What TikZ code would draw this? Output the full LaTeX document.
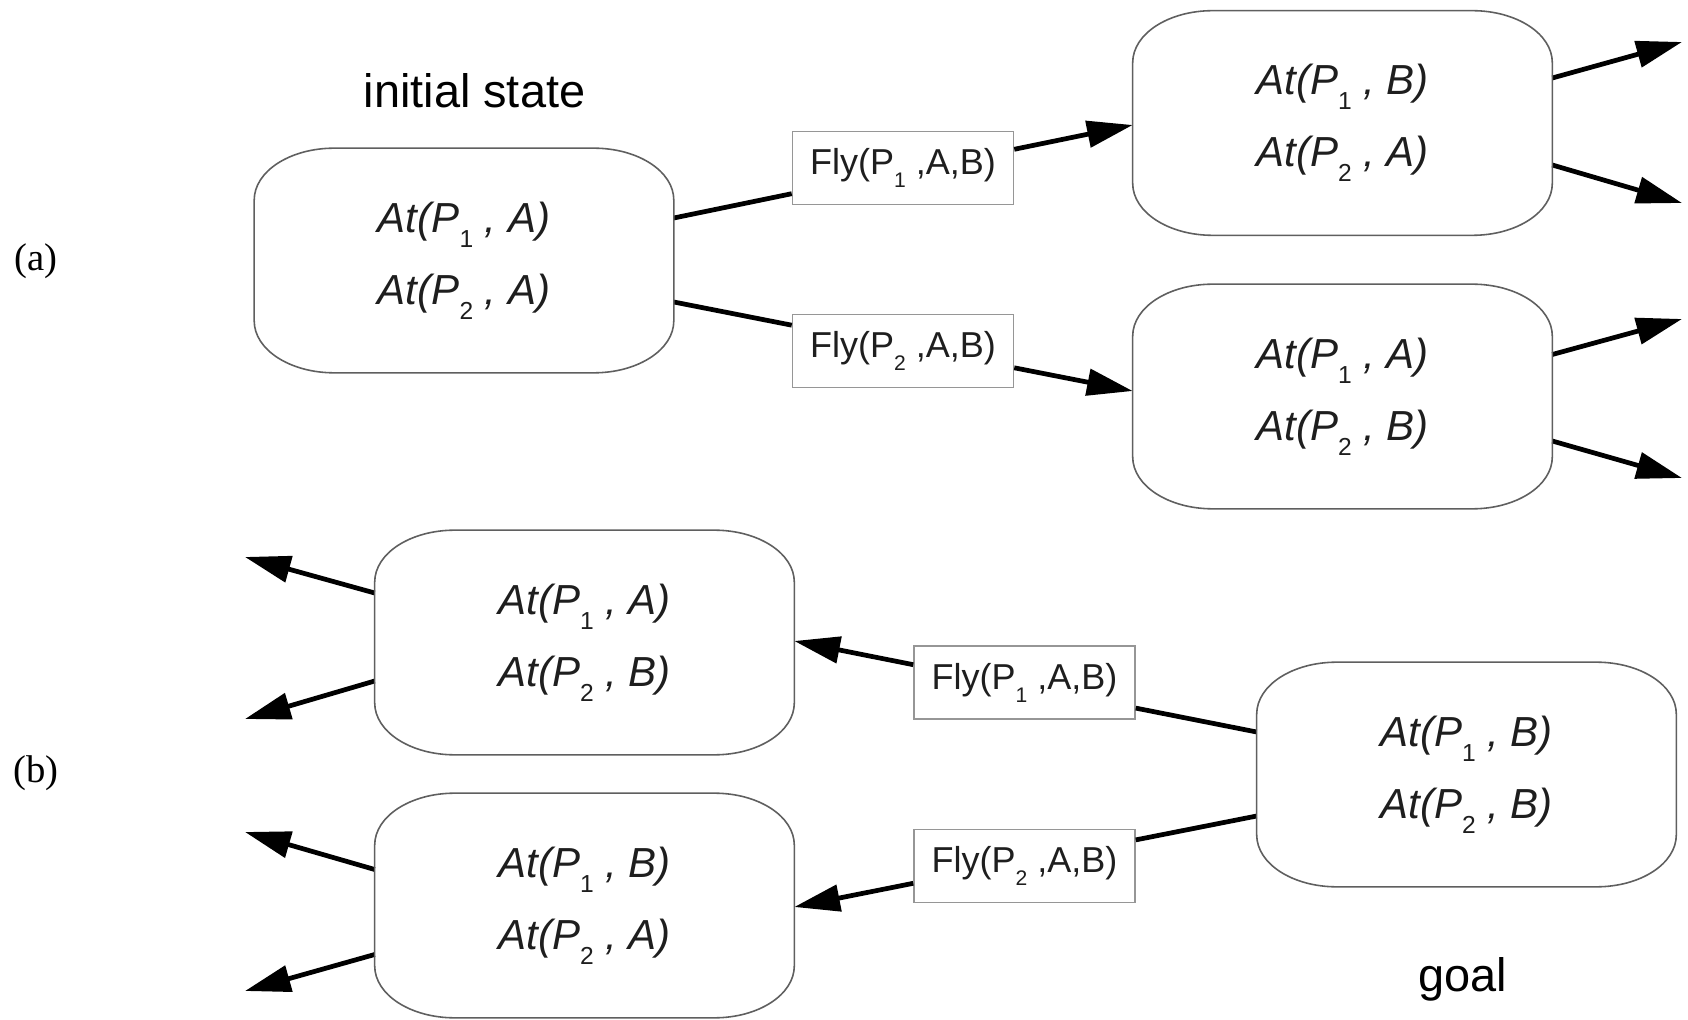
\documentclass[tikz,border=0pt]{standalone}
\usepackage{fontspec}
\setmainfont{Liberation Sans}
\newfontfamily\labelserif{Liberation Serif}
\usetikzlibrary{calc,arrows.meta}

% lowered upright index inside the state and action labels
\newcommand\atsub[1]{\raisebox{-0.36em}{\fontsize{14}{14}\selectfont\upshape #1}}
\newcommand\flysub[1]{\raisebox{-0.36em}{\fontsize{12}{12}\selectfont #1}}

% rounded outline with elliptical corners around a state node
\newcommand\stateoutline[1]{%
  \draw[stateline] ($(#1.north west)+(80,0)$) -- ($(#1.north east)+(-80,0)$)
    .. controls +(44,0) and +(0,-29) .. ($(#1.north east)+(0,52)$)
    -- ($(#1.south east)+(0,-52)$)
    .. controls +(0,29) and +(44,0) .. ($(#1.south east)+(-80,0)$)
    -- ($(#1.south west)+(80,0)$)
    .. controls +(-44,0) and +(0,29) .. ($(#1.south west)+(0,-52)$)
    -- ($(#1.north west)+(0,52)$)
    .. controls +(0,-29) and +(-44,0) .. ($(#1.north west)+(80,0)$) -- cycle;}

\definecolor{stategray}{RGB}{95,95,95}
\definecolor{actgray}{RGB}{150,150,150}
\definecolor{inkgray}{RGB}{30,30,30}

\begin{document}
\begin{tikzpicture}[x=0.02cm, y=-0.02cm,
  state/.style={minimum width=8.38cm, minimum height=4.48cm, inner sep=0pt,
    align=center, text=inkgray, font=\fontsize{23.9}{41}\selectfont\itshape},
  action/.style={draw=actgray, line width=0.9pt, fill=white, minimum width=4.42cm,
    minimum height=1.46cm, inner sep=0pt, text=inkgray, font=\fontsize{20.5}{24}\selectfont},
  stateline/.style={draw=stategray, line width=0.9pt},
  link/.style={line width=2.7pt, black},
  arrowlink/.style={link, -{Triangle[length=26pt, width=15pt]}},
  caption/.style={font=\fontsize{26.7}{30}\selectfont, anchor=base},
  partlabel/.style={font=\labelserif\fontsize{22}{22}\selectfont}]

\useasboundingbox (0,0) rectangle (1688,1020);
\fill[white] (0,0) rectangle (1688,1020);

% ---------- (a) forward search ----------
\node[partlabel] (lbla) at (36,261) {(a)};
\node[caption] (init) at (474.5,108) {initial state};

\node[state] (I)  at (464,260.5)    {At(P\atsub{1} , A)\\At(P\atsub{2} , A)};
\node[state] (TR) at (1342.5,123)   {At(P\atsub{1} , B)\\At(P\atsub{2} , A)};
\node[state] (BR) at (1342.5,396.5) {At(P\atsub{1} , A)\\At(P\atsub{2} , B)};

\node[action] (F1a) at (903,168) {Fly(P\flysub{1} ,A,B)};
\node[action] (F2a) at (903,351) {Fly(P\flysub{2} ,A,B)};

\draw[link] ($(I.east)+(0,-42.5)$) -- ($(F1a.west)+(0,25.7)$);
\draw[arrowlink] ($(F1a.east)+(0,-18.7)$) -- ($(TR.west)+(0,2)$);
\draw[link] ($(I.east)+(0,41.5)$) -- ($(F2a.west)+(0,-25.8)$);
\draw[arrowlink] ($(F2a.east)+(0,16.8)$) -- ($(BR.west)+(0,-5.5)$);

\coordinate (tr1) at (1682,42);
\coordinate (tr2) at (1682,203);
\coordinate (br1) at (1682,319);
\coordinate (br2) at (1682,478);
\draw[arrowlink] ($(TR.east)+(0,-45)$) -- (tr1);
\draw[arrowlink] ($(TR.east)+(0,42)$) -- (tr2);
\draw[arrowlink] ($(BR.east)+(0,-42)$) -- (br1);
\draw[arrowlink] ($(BR.east)+(0,44.5)$) -- (br2);

% ---------- (b) backward search ----------
\node[partlabel] (lblb) at (36,773) {(b)};
\node[caption] (goaltext) at (1463,991) {goal};

\node[state] (B1) at (584.5,642.5)  {At(P\atsub{1} , A)\\At(P\atsub{2} , B)};
\node[state] (B2) at (584.5,905.5)  {At(P\atsub{1} , B)\\At(P\atsub{2} , A)};
\node[state] (G)  at (1466.5,774.5) {At(P\atsub{1} , B)\\At(P\atsub{2} , B)};

\node[action] (F1b) at (1024.5,682.5) {Fly(P\flysub{1} ,A,B)};
\node[action] (F2b) at (1024.5,866)   {Fly(P\flysub{2} ,A,B)};

\draw[link] ($(G.west)+(0,-42.5)$) -- ($(F1b.east)+(0,25.6)$);
\draw[arrowlink] ($(F1b.west)+(0,-17.8)$) -- ($(B1.east)+(0,-1.5)$);
\draw[link] ($(G.west)+(0,41.5)$) -- ($(F2b.east)+(0,-26.1)$);
\draw[arrowlink] ($(F2b.west)+(0,17.3)$) -- ($(B2.east)+(0,1.5)$);

\coordinate (b1a) at (245,557);
\coordinate (b1b) at (245,719);
\coordinate (b2a) at (245,832);
\coordinate (b2b) at (245,991);
\draw[arrowlink] ($(B1.west)+(0,-49.5)$) -- (b1a);
\draw[arrowlink] ($(B1.west)+(0,38.5)$) -- (b1b);
\draw[arrowlink] ($(B2.west)+(0,-36)$) -- (b2a);
\draw[arrowlink] ($(B2.west)+(0,49)$) -- (b2b);

% state outlines
\foreach \s in {I,TR,BR,B1,B2,G} {\stateoutline{\s}}
\end{tikzpicture}
\end{document}
